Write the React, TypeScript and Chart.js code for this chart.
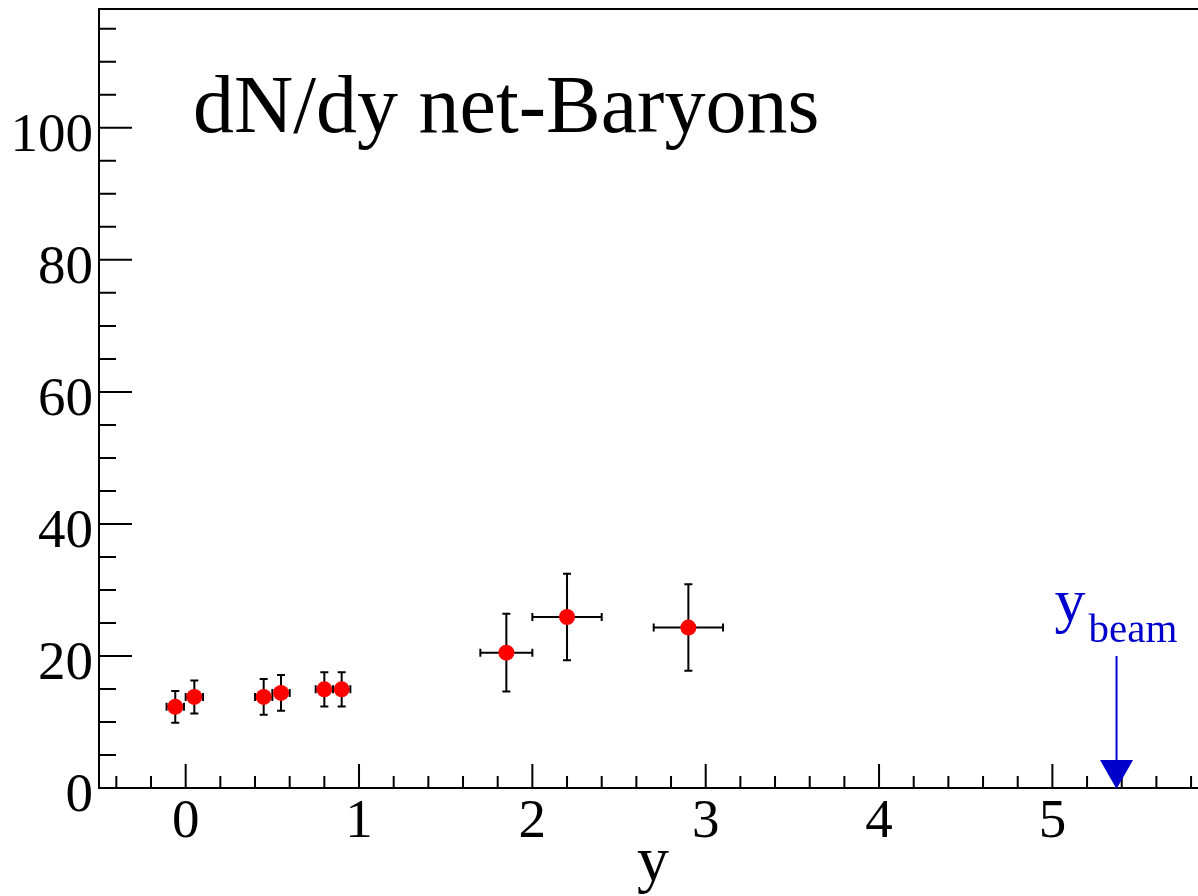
import React, { useEffect, useRef } from "react";
import { Chart, registerables } from "chart.js";

Chart.register(...registerables);

// ---- data ----
const rapidity = [-0.06, 0.05, 0.45, 0.55, 0.8, 0.9, 1.85, 2.2, 2.9];
const dNdy = [12.3, 13.8, 13.8, 14.4, 14.95, 14.95, 20.5, 25.9, 24.3];
const dNdyErr = [2.4, 2.5, 2.7, 2.7, 2.6, 2.6, 5.9, 6.55, 6.55];
const rapidityErr = [0.05, 0.05, 0.05, 0.05, 0.05, 0.05, 0.15, 0.2, 0.2];

const xTickValues = [0, 1, 2, 3, 4, 5];
const xTickLabels = ["0", "1", "2", "3", "4", "5"];
const yTickValues = [0, 20, 40, 60, 80, 100];
const yTickLabels = ["0", "20", "40", "60", "80", "100"];

const yBeam = 5.37;
const yBeamArrowTop = 20;
const titleText = "dN/dy net-Baryons";
const xAxisTitle = "y";
const beamMain = "y";
const beamSub = "beam";

const X_MIN = -0.5;
const X_MAX = 5.84;
const Y_MIN = 0;
const Y_MAX = 118;
const X_MINOR = 0.2;
const Y_MINOR = 5;

const SERIF = '"Liberation Serif", "Times New Roman", serif';
const BLUE = "#0000cc";

const rootStyle = {
  id: "rootStyle",
  beforeDatasetsDraw(chart: any) {
    const ctx = chart.ctx;
    const xs = chart.scales.x;
    const ys = chart.scales.y;
    ctx.save();
    ctx.strokeStyle = "#000";
    ctx.lineWidth = 2;
    const cap = 4;
    ctx.beginPath();
    for (let i = 0; i < rapidity.length; i++) {
      const px = xs.getPixelForValue(rapidity[i]);
      const py = ys.getPixelForValue(dNdy[i]);
      const x1 = xs.getPixelForValue(rapidity[i] - rapidityErr[i]);
      const x2 = xs.getPixelForValue(rapidity[i] + rapidityErr[i]);
      const y1 = ys.getPixelForValue(dNdy[i] + dNdyErr[i]);
      const y2 = ys.getPixelForValue(dNdy[i] - dNdyErr[i]);
      // vertical
      ctx.moveTo(px, y1);
      ctx.lineTo(px, y2);
      ctx.moveTo(px - cap, y1);
      ctx.lineTo(px + cap, y1);
      ctx.moveTo(px - cap, y2);
      ctx.lineTo(px + cap, y2);
      // horizontal
      ctx.moveTo(x1, py);
      ctx.lineTo(x2, py);
      ctx.moveTo(x1, py - cap);
      ctx.lineTo(x1, py + cap);
      ctx.moveTo(x2, py - cap);
      ctx.lineTo(x2, py + cap);
    }
    ctx.stroke();
    ctx.restore();
  },
  afterDraw(chart: any) {
    const ctx = chart.ctx;
    const a = chart.chartArea;
    const xs = chart.scales.x;
    const ys = chart.scales.y;
    ctx.save();
    ctx.strokeStyle = "#000";
    ctx.lineWidth = 2;
    ctx.beginPath();
    // frame (left, top, bottom)
    ctx.moveTo(a.left, a.bottom);
    ctx.lineTo(a.left, a.top);
    ctx.lineTo(a.right, a.top);
    ctx.moveTo(a.left - 1, a.bottom);
    ctx.lineTo(a.right, a.bottom);
    // x ticks
    for (let k = Math.ceil(X_MIN / X_MINOR - 1e-9); k * X_MINOR <= X_MAX + 1e-9; k++) {
      const v = k * X_MINOR;
      const major = Math.abs(v - Math.round(v)) < 1e-6;
      const px = xs.getPixelForValue(v);
      ctx.moveTo(px, a.bottom);
      ctx.lineTo(px, a.bottom - (major ? 24 : 12));
    }
    // y ticks
    for (let k = Math.ceil(Y_MIN / Y_MINOR) + 1; k * Y_MINOR <= Y_MAX + 1e-9; k++) {
      const v = k * Y_MINOR;
      const major = v % 20 === 0;
      const py = ys.getPixelForValue(v);
      ctx.moveTo(a.left, py);
      ctx.lineTo(a.left + (major ? 33 : 17), py);
    }
    ctx.stroke();

    // tick labels
    ctx.fillStyle = "#000";
    ctx.font = `55px ${SERIF}`;
    ctx.textBaseline = "alphabetic";
    ctx.textAlign = "center";
    xTickValues.forEach((v, i) => {
      ctx.fillText(xTickLabels[i], xs.getPixelForValue(v), a.bottom + 49);
    });
    ctx.textAlign = "right";
    yTickValues.forEach((v, i) => {
      ctx.fillText(yTickLabels[i], a.left - 6, ys.getPixelForValue(v) + 23);
    });

    // x axis title
    ctx.textAlign = "center";
    ctx.font = `64px ${SERIF}`;
    ctx.fillText(xAxisTitle, 653, a.bottom + 92);

    // plot title
    ctx.textAlign = "left";
    ctx.font = `82px ${SERIF}`;
    ctx.fillText(titleText, a.left + 94, a.top + 123);

    // y_beam arrow
    const bx = xs.getPixelForValue(yBeam);
    const bTop = ys.getPixelForValue(yBeamArrowTop);
    const bBot = ys.getPixelForValue(0);
    ctx.strokeStyle = BLUE;
    ctx.fillStyle = BLUE;
    ctx.lineWidth = 2;
    ctx.beginPath();
    ctx.moveTo(bx, bTop);
    ctx.lineTo(bx, bBot - 20);
    ctx.stroke();
    ctx.beginPath();
    ctx.moveTo(bx - 16.5, bBot - 28);
    ctx.lineTo(bx + 16.5, bBot - 28);
    ctx.lineTo(bx, bBot + 1);
    ctx.closePath();
    ctx.fill();

    // y_beam label
    ctx.font = `62px ${SERIF}`;
    ctx.textAlign = "left";
    ctx.fillText(beamMain, bx - 62, bTop - 35);
    ctx.font = `41px ${SERIF}`;
    ctx.fillText(beamSub, bx - 28, bTop - 14);
    ctx.restore();
  },
};

export default function App() {
  const canvasRef = useRef<HTMLCanvasElement | null>(null);

  useEffect(() => {
    const canvas = canvasRef.current;
    if (!canvas) return;
    const chart = new Chart(canvas, {
      type: "scatter",
      data: {
        datasets: [
          {
            label: "net-Baryons",
            data: rapidity.map((x, i) => ({ x, y: dNdy[i] })),
            pointRadius: 8,
            pointStyle: "circle",
            backgroundColor: "#ff0000",
            borderWidth: 0,
          },
        ],
      },
      options: {
        responsive: false,
        animation: false,
        devicePixelRatio: 1,
        events: [],
        layout: { autoPadding: false, padding: { left: 99, right: 0, top: 9, bottom: 108 } },
        plugins: {
          legend: { display: false },
          tooltip: { enabled: false },
          title: { display: false },
        },
        scales: {
          x: { type: "linear", min: X_MIN, max: X_MAX, display: false },
          y: { type: "linear", min: Y_MIN, max: Y_MAX, display: false },
        },
      },
      plugins: [rootStyle],
    });
    const fonts = (document as any).fonts;
    if (fonts && fonts.load) {
      Promise.all([
        fonts.load(`55px "Liberation Serif"`),
      ]).then(() => chart.draw()).catch(() => {});
    }
    return () => chart.destroy();
  }, []);

  return (
    <div style={{ position: "absolute", left: 0, top: 0, width: 1198, height: 896, background: "#fff", overflow: "hidden" }}>
      <canvas ref={canvasRef} width={1198} height={896} style={{ width: 1198, height: 896, display: "block" }} />
    </div>
  );
}
